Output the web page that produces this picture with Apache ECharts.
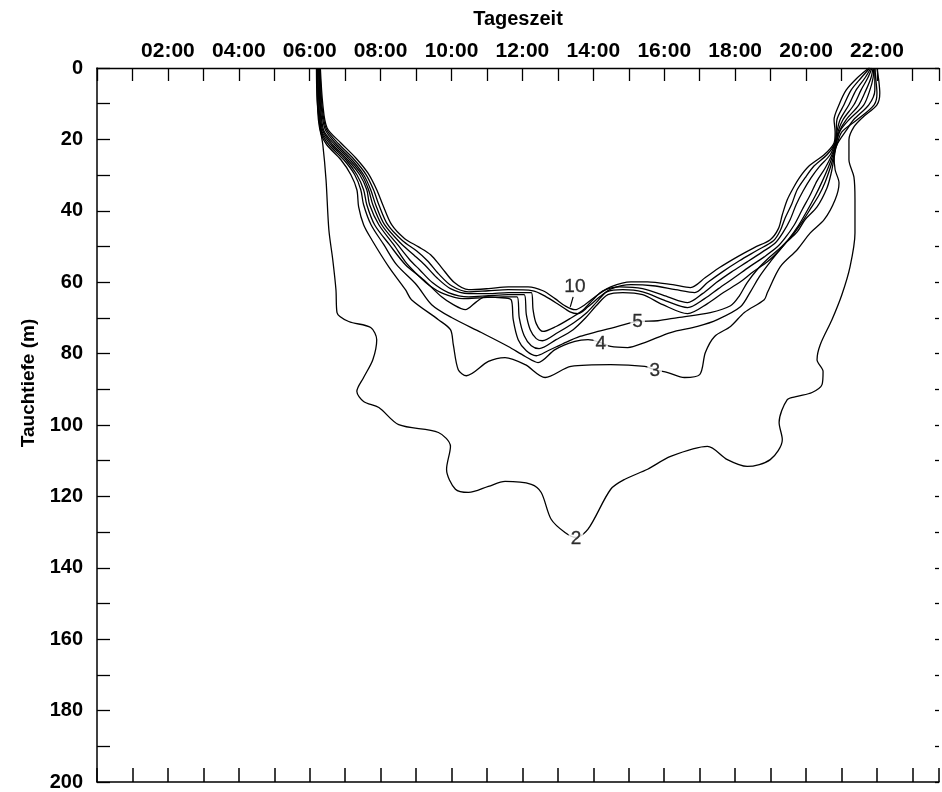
<!DOCTYPE html>
<html>
<head>
<meta charset="utf-8">
<script src="https://cdn.jsdelivr.net/npm/echarts@6/dist/echarts.min.js"></script>
<style>
html,body{margin:0;padding:0;background:#fff;}
#chart{width:942px;height:792px;}
</style>
</head>
<body>
<div id="chart"></div>
<script>
// Contour lines: [hour of day, depth in m]
const c2 = [[6.19,0],[6.21,9.0],[6.30,17.3],[6.37,21.5],[6.46,31.3],[6.54,45.3],[6.65,53.7],[6.74,62.1],[6.77,68.5],[7.10,71.0],[7.72,72.7],[7.89,76.1],[7.78,81.7],[7.52,86.7],[7.33,90.6],[7.52,93.4],[7.95,95.1],[8.51,99.9],[9.63,102.1],[9.97,106.0],[9.86,112.4],[10.11,118.0],[10.48,118.9],[11.04,117.2],[11.51,115.8],[12.25,116.6],[12.53,118.9],[12.81,126.4],[13.20,130.1],[13.51,131.5],[13.85,129.2],[14.49,118.0],[14.89,115.2],[15.53,112.4],[16.18,108.8],[17.22,106.0],[17.78,109.7],[18.34,111.6],[18.99,109.7],[19.33,104.1],[19.24,99.3],[19.47,92.9],[19.75,92.0],[20.17,90.9],[20.45,88.7],[20.48,85.0],[20.31,81.7],[20.40,77.5],[20.73,70.5],[21.01,63.5],[21.24,55.7],[21.38,46.2],[21.38,36.9],[21.35,30.5],[21.21,25.7],[21.21,20.1],[21.35,16.5],[21.61,13.7],[22.0,10.3],[22.08,7.0],[22.05,3.4],[22.0,0]];
const c3 = [[6.20,0],[6.23,12.6],[6.31,18.2],[6.48,21.5],[6.88,25.7],[7.16,29.9],[7.33,34.1],[7.38,38.9],[7.52,43.9],[7.75,48.1],[8.23,55.7],[8.70,62.1],[8.87,64.9],[9.63,70.5],[9.97,73.3],[10.05,77.5],[10.19,84.5],[10.42,86.2],[11.04,82.2],[11.51,81.1],[12.08,83.1],[12.64,86.7],[13.37,83.6],[14.49,83.1],[15.45,83.6],[15.73,84.5],[16.10,85.3],[16.57,86.7],[17.0,85.9],[17.16,79.7],[17.42,75.2],[17.87,72.4],[18.26,68.5],[18.82,64.9],[18.91,62.9],[19.27,55.7],[19.75,50.9],[20.12,46.2],[20.51,42.5],[20.82,36.9],[20.93,32.2],[20.82,28.5],[20.79,24.3],[20.87,21.5],[21.01,17.9],[21.44,14.5],[21.92,10.3],[22.0,7.0],[21.97,3.4],[21.94,0]];
const c4 = [[6.22,0],[6.25,12.3],[6.34,18.2],[6.54,21.5],[6.96,25.7],[7.27,29.9],[7.44,34.1],[7.52,38.3],[7.73,43.9],[8.09,49.5],[8.45,55.1],[9.01,60.7],[9.44,66.3],[10.0,69.9],[10.84,74.1],[11.60,78.0],[12.08,80.8],[12.44,82.5],[12.92,78.9],[13.48,76.6],[13.85,76.1],[14.21,76.9],[14.49,78.0],[14.97,78.3],[15.45,76.9],[16.18,74.1],[16.94,72.4],[17.50,70.5],[18.15,66.9],[18.43,62.7],[18.68,58.5],[18.99,54.3],[19.38,49.5],[19.75,45.9],[19.97,42.5],[20.31,38.9],[20.59,33.6],[20.71,29.4],[20.79,25.2],[20.87,21.5],[21.16,17.1],[21.34,14.5],[21.77,10.3],[21.94,6.2],[21.94,2.8],[21.94,0]];
const c5 = [[6.23,0],[6.27,12.0],[6.35,17.9],[6.60,21.5],[7.02,25.7],[7.33,29.9],[7.52,34.1],[7.61,38.3],[7.83,43.9],[8.25,49.5],[8.70,55.1],[9.21,59.3],[9.72,64.1],[10.05,66.3],[10.39,67.7],[10.70,65.5],[10.95,64.1],[11.32,64.3],[11.68,64.9],[11.74,70.5],[11.88,76.1],[12.11,79.2],[12.39,80.6],[12.72,79.2],[13.15,77.2],[13.62,75.2],[14.13,73.8],[14.69,72.4],[15.25,71.0],[15.82,70.8],[16.38,69.9],[17.30,68.5],[17.87,66.6],[18.12,63.8],[18.34,60.1],[18.62,56.5],[18.96,53.1],[19.30,50.1],[19.61,47.0],[19.89,43.1],[20.14,39.2],[20.37,35.5],[20.54,31.9],[20.68,28.0],[20.79,24.3],[20.85,21.0],[20.96,17.6],[21.21,14.5],[21.63,10.3],[21.80,6.2],[21.89,2.8],[21.91,0]];
const c6 = [[6.25,0],[6.29,11.7],[6.37,17.6],[6.65,21.5],[7.07,25.7],[7.41,29.9],[7.61,34.1],[7.69,38.3],[7.95,43.9],[8.37,49.5],[8.70,54.3],[8.96,57.1],[9.35,60.7],[9.77,63.2],[10.33,64.6],[10.90,64.3],[11.46,64.1],[11.85,64.1],[11.91,69.9],[12.05,75.0],[12.25,77.8],[12.47,78.6],[12.95,76.1],[13.43,73.3],[13.79,69.9],[14.08,66.6],[14.41,63.5],[14.83,62.9],[15.39,63.5],[15.96,66.3],[16.66,68.8],[17.22,66.0],[17.67,62.9],[18.12,60.1],[18.51,57.1],[18.91,54.3],[19.24,51.2],[19.50,48.1],[19.78,44.2],[20.03,40.0],[20.26,35.8],[20.45,31.9],[20.62,28.0],[20.76,24.3],[20.85,21.0],[20.93,17.9],[21.13,14.5],[21.49,10.3],[21.69,6.2],[21.83,2.8],[21.89,0]];
const c7 = [[6.26,0],[6.31,11.5],[6.40,17.6],[6.71,21.5],[7.13,25.7],[7.47,29.9],[7.66,34.1],[7.78,38.3],[8.03,43.9],[8.48,49.5],[8.82,53.7],[9.10,56.5],[9.46,60.1],[9.91,62.9],[10.48,64.1],[11.04,63.8],[11.60,63.5],[12.05,63.5],[12.11,69.1],[12.22,73.3],[12.39,75.8],[12.56,76.4],[13.0,74.1],[13.46,71.3],[13.82,68.5],[14.10,65.5],[14.38,62.7],[14.83,62.1],[15.39,62.7],[16.04,65.2],[16.66,67.1],[17.14,64.6],[17.53,61.8],[17.98,58.7],[18.40,55.7],[18.82,52.9],[19.19,50.1],[19.41,47.6],[19.67,43.9],[19.89,39.7],[20.12,35.5],[20.31,31.6],[20.54,28.0],[20.73,24.3],[20.85,21.0],[20.90,17.9],[21.04,14.5],[21.35,10.3],[21.55,6.2],[21.74,2.8],[21.86,0]];
const c8 = [[6.27,0],[6.33,11.2],[6.44,17.3],[6.77,21.5],[7.19,25.7],[7.52,29.9],[7.72,34.1],[7.86,38.3],[8.11,43.9],[8.56,49.0],[8.93,52.3],[9.24,55.1],[9.58,58.7],[9.97,61.8],[10.48,63.2],[11.04,63.2],[11.60,62.9],[12.25,62.9],[12.30,67.7],[12.39,71.6],[12.58,73.8],[12.95,72.4],[13.34,70.2],[13.72,67.7],[13.99,64.9],[14.27,62.4],[14.75,61.3],[15.39,61.8],[16.10,64.1],[16.66,65.7],[17.08,63.2],[17.47,60.1],[17.90,57.1],[18.34,54.3],[18.77,51.5],[19.13,49.0],[19.36,45.9],[19.55,42.5],[19.72,38.3],[19.92,34.4],[20.14,30.8],[20.37,27.7],[20.68,24.3],[20.82,21.0],[20.87,17.9],[20.96,14.5],[21.21,10.3],[21.41,6.2],[21.66,2.8],[21.83,0]];
const c9 = [[6.29,0],[6.35,10.9],[6.47,17.1],[6.82,21.3],[7.24,25.5],[7.58,29.7],[7.80,34.1],[7.95,38.3],[8.20,43.9],[8.62,48.4],[9.01,51.2],[9.32,54.0],[9.63,57.6],[10.0,61.0],[10.48,62.7],[11.04,62.4],[11.60,62.1],[12.30,62.4],[12.67,64.1],[13.03,66.3],[13.34,68.3],[13.57,68.8],[13.85,66.9],[14.18,64.1],[14.52,61.8],[15.06,60.7],[15.68,61.0],[16.32,62.1],[16.86,62.9],[17.22,60.1],[17.64,57.1],[18.12,54.0],[18.60,51.2],[19.08,48.4],[19.27,45.6],[19.41,42.0],[19.60,38.0],[19.75,34.1],[19.97,30.8],[20.23,27.4],[20.59,24.3],[20.82,21.0],[20.85,17.9],[20.87,14.5],[21.07,10.3],[21.27,6.2],[21.55,2.8],[21.80,0]];
const c10 = [[6.30,0],[6.37,10.3],[6.49,16.8],[6.88,21.0],[7.30,25.2],[7.64,29.4],[7.89,34.1],[8.06,38.3],[8.31,43.9],[8.68,47.8],[9.07,50.1],[9.41,52.3],[9.72,55.9],[10.08,60.1],[10.48,62.1],[11.04,61.8],[11.60,61.3],[12.16,61.3],[12.58,62.4],[12.92,64.6],[13.20,66.6],[13.48,67.7],[13.76,66.3],[14.13,63.5],[14.49,61.3],[15.06,59.9],[15.53,59.9],[16.24,60.7],[16.74,61.5],[17.16,58.7],[17.56,55.9],[18.06,52.9],[18.54,50.3],[18.99,48.1],[19.22,45.0],[19.33,41.1],[19.47,36.9],[19.64,33.6],[19.83,30.5],[20.09,27.4],[20.51,24.3],[20.79,21.0],[20.82,17.9],[20.79,14.5],[20.93,10.3],[21.13,6.2],[21.44,2.8],[21.77,0]];
const leader10 = [[13.43,64.1],[13.35,66.9]];
// contour level labels: [hour, depth, text]
const levelLabels = [[13.48,61.3,'10'],[15.25,71.0,'5'],[14.21,77.2,'4'],[15.73,84.8,'3'],[13.51,132.0,'2']];
const hourTicks = [2,4,6,8,10,12,14,16,18,20,22];
const depthLabels = [0,20,40,60,80,100,120,140,160,180,200];

const contours = [c2,c3,c4,c5,c6,c7,c8,c9,c10];
const FONT = '"Liberation Sans", Arial, Helvetica, sans-serif';
const chart = echarts.init(document.getElementById('chart'), null, {renderer:'canvas'});

const lineSeries = contours.map((c,i)=>({
  type:'line', xAxisIndex:0, yAxisIndex:0, data:c, showSymbol:false, symbol:'none',
  smooth:0.3, lineStyle:{color:'#000', width:1.3}, z:2, silent:true
}));
lineSeries.push({type:'line', xAxisIndex:0, yAxisIndex:0, data:leader10, showSymbol:false, symbol:'none', lineStyle:{color:'#000', width:1.2}, z:2});
lineSeries.push({
  type:'scatter', xAxisIndex:0, yAxisIndex:0, symbolSize:0, z:5,
  data: levelLabels.map(d=>({value:[d[0],d[1]], name:d[2]})),
  label:{show:true, position:'inside', formatter:p=>p.name, fontFamily:FONT, fontSize:19, color:'#000', backgroundColor:'#fff', padding:[0,2],
    textBorderColor:'#000', textBorderWidth:0.3}
});

function hh(v){ return (v<10?'0':'')+v+':00'; }

const option = {
  backgroundColor:'#fff',
  animation:false,
  grid:{left:97, top:68, right:0, bottom:9, containLabel:false},
  xAxis:[
    {type:'value', position:'top', min:0, max:23.75, interval:1,
     axisLine:{show:true, onZero:false, lineStyle:{color:'#000', width:1.3}},
     axisTick:{show:true, inside:true, length:13, lineStyle:{color:'#000', width:1.3}},
     axisLabel:{show:true, margin:6, fontFamily:FONT, fontSize:21, fontWeight:'bold', color:'#000',
       formatter:v=> hourTicks.indexOf(v)>=0 ? hh(v) : ''},
     splitLine:{show:false},
     name:'Tageszeit', nameLocation:'middle', nameGap:39,
     nameTextStyle:{fontFamily:FONT, fontSize:20, fontWeight:'bold', color:'#000'}
    },
    {type:'value', position:'bottom', min:0, max:23.75, interval:1,
     axisLine:{show:true, onZero:false, lineStyle:{color:'#000', width:1.5}},
     axisTick:{show:true, inside:true, length:14, lineStyle:{color:'#000', width:1.5}},
     axisLabel:{show:false}, splitLine:{show:false}}
  ],
  yAxis:[
    {type:'value', position:'left', inverse:true, min:0, max:200, interval:10,
     axisLine:{show:true, onZero:false, lineStyle:{color:'#000', width:1.5}},
     axisTick:{show:true, inside:true, length:13, lineStyle:{color:'#000', width:1.3}},
     axisLabel:{show:true, margin:14, fontFamily:FONT, fontSize:20, fontWeight:'bold', color:'#000',
       formatter:v=> depthLabels.indexOf(v)>=0 ? String(v) : ''},
     splitLine:{show:false}},
    {type:'value', position:'right', inverse:true, min:0, max:200, interval:10,
     axisLine:{show:false, onZero:false},
     axisTick:{show:true, inside:true, length:4, lineStyle:{color:'#000', width:1.3}},
     axisLabel:{show:false}, splitLine:{show:false}}
  ],
  graphic:[
    {type:'text', x:29, y:383, rotation:Math.PI/2,
     style:{text:'Tauchtiefe (m)', font:'bold 19px '+FONT, fill:'#000', textAlign:'center', textVerticalAlign:'middle'}}
  ],
  series: lineSeries
};
chart.setOption(option);
</script>
</body>
</html>
